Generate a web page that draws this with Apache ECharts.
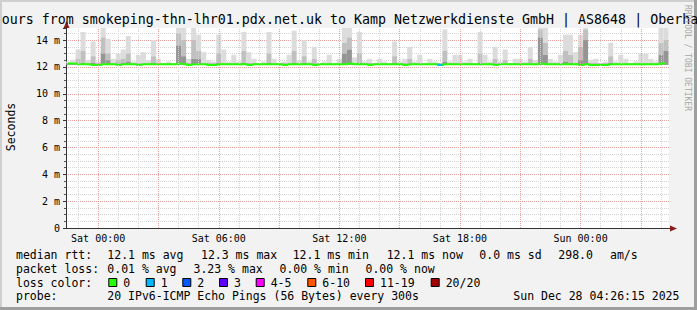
<!DOCTYPE html>
<html><head><meta charset="utf-8">
<script src="https://cdn.jsdelivr.net/npm/echarts@6/dist/echarts.min.js"></script>
<style>html,body{margin:0;padding:0;background:#f2f2f2}#c{width:697px;height:310px}</style>
</head><body><div id="c"></div>
<script>
// ---------- data ----------
const titleText = 'ours from smokeping-thn-lhr01.pdx.net.uk to Kamp Netzwerkdienste GmbH | AS8648 | Oberha';
const startHour = -1.5;   // hours relative to Sat 00:00
const stepHours = 0.25;
const smokeMin = [
12.15,12.15,12.15,12.15,12.15,12.1,12.1,12.15,12.15,12.15,
12.1,12.15,12.15,12.15,12.1,12.15,12.15,12.15,12.15,12.15,
12.15,12.15,12.15,12.15,12.1,12.15,12.15,12.15,12.1,12.1,
12.15,12.15,12.15,12.15,12.15,12.15,12.1,12.15,12.15,12.15,
12.15,12.15,12.15,12.1,12.15,12.15,12.15,12.15,12.15,12.1,
12.15,12.15,12.15,12.15,12.15,12.15,12.15,12.15,12.15,12.15,
12.1,12.15,12.15,12.15,12.15,12.15,12.15,12.1,12.15,12.15,
12.15,12.15,12.15,12.15,12.1,12.15,12.15,12.15,12.15,12.15,
12.15,12.15,12.15,12.15,12.15,12.1,12.15,12.15,12.15,12.15,
12.15,12.15,12.15,12.15,12.15,12.15,12.15,12.15,12.15,12.15,
12.15,12.15,12.1,12.15,12.1,12.1,12.1,12.1,12.15,12.15,
12.15,12.15,12.15,12.15,12.15,12.15,12.15,12.15,12.15,12.15];
const smokeDark = [
12.25,12.25,12.25,12.3,12.25,12.3,12.25,13.0,12.5,12.25,
12.25,12.3,12.4,12.25,12.25,12.25,12.25,12.3,12.25,12.25,
12.25,12.25,13.6,12.8,12.25,12.6,12.6,12.25,12.25,12.25,
12.3,12.25,12.25,12.25,12.25,12.3,12.25,12.25,12.25,12.25,
12.3,12.25,12.25,12.25,12.25,12.3,12.25,12.3,12.25,12.25,
12.25,12.25,12.25,12.25,12.25,13.0,13.3,12.25,12.3,12.25,
12.25,12.25,12.25,12.25,12.25,12.3,12.25,12.25,12.25,12.25,
12.25,12.25,12.25,12.25,12.25,12.4,12.25,12.25,12.25,12.25,
12.25,12.25,12.3,12.25,12.25,12.25,12.25,12.25,12.25,12.25,
12.25,12.25,12.25,12.25,14.2,12.9,12.25,12.25,12.25,12.4,
12.3,12.25,12.5,14.0,12.25,12.25,12.25,12.25,12.3,12.25,
12.25,12.25,12.25,12.25,12.25,12.25,12.25,12.25,12.9,13.2];
const smokeMid = [
12.3,12.3,12.6,13.2,12.3,12.8,12.3,14.2,13.0,12.3,
12.5,12.6,13.0,12.3,12.3,12.3,12.3,12.8,12.3,12.3,
12.3,12.3,14.5,14.0,12.3,14.0,13.2,12.3,12.3,12.3,
13.0,12.3,12.3,12.3,12.3,13.2,12.3,12.3,12.3,12.3,
13.0,12.3,12.3,12.3,12.3,13.2,12.3,12.8,12.3,12.6,
12.3,12.3,12.3,12.3,12.3,13.8,14.2,12.3,13.0,12.3,
12.3,12.3,12.3,12.3,12.3,12.8,12.3,12.3,12.6,12.3,
12.3,12.3,12.3,12.3,12.3,13.2,12.3,12.3,12.3,12.3,
12.3,12.3,13.0,12.3,12.3,12.6,12.3,12.5,12.3,12.3,
12.3,12.3,12.6,12.3,14.8,13.8,12.3,12.3,12.3,13.2,
12.9,12.3,13.5,14.8,12.3,12.3,12.3,12.3,12.8,12.3,
12.3,12.3,12.3,12.3,12.3,12.3,12.3,12.3,13.8,14.0];
const smokeMax = [
12.4,12.5,13.3,14.6,12.5,13.9,12.4,15.0,14.1,12.6,
13.0,13.3,14.3,12.4,12.9,13.1,12.5,14.0,12.6,12.3,
12.4,12.3,15.0,15.0,12.6,15.0,14.4,13.1,12.5,12.4,
14.4,13.3,12.4,12.9,12.4,14.6,13.1,12.6,12.3,12.4,
14.6,12.6,12.3,12.4,12.9,14.7,12.5,14.0,12.4,13.5,
12.3,12.4,12.9,12.3,12.6,15.0,15.0,12.7,14.6,12.4,
12.6,12.3,12.6,12.4,12.3,13.9,12.4,12.6,13.5,12.4,
12.9,12.3,12.6,12.4,12.3,14.8,12.4,12.9,12.9,12.4,
12.6,12.3,14.6,12.9,12.4,13.5,12.4,13.3,12.3,12.6,
12.6,12.4,13.5,12.5,15.0,15.0,12.6,12.4,12.9,14.4,
14.4,13.1,14.4,15.0,12.5,12.6,12.3,12.4,13.8,12.4,
12.9,12.6,12.3,12.4,13.0,13.0,12.6,12.4,15.0,15.0];
const medianRtt = [
12.25,12.25,12.2,12.2,12.2,12.15,12.15,12.2,12.2,12.2,
12.15,12.2,12.2,12.2,12.15,12.2,12.2,12.2,12.2,12.2,
12.2,12.2,12.25,12.2,12.15,12.2,12.2,12.2,12.15,12.15,
12.2,12.2,12.2,12.2,12.2,12.2,12.15,12.2,12.2,12.2,
12.2,12.2,12.2,12.15,12.2,12.2,12.2,12.2,12.2,12.15,
12.2,12.2,12.2,12.2,12.2,12.2,12.25,12.2,12.2,12.2,
12.15,12.2,12.2,12.2,12.2,12.2,12.2,12.15,12.2,12.2,
12.2,12.2,12.2,12.2,12.15,12.2,12.2,12.2,12.2,12.2,
12.2,12.2,12.2,12.2,12.2,12.15,12.2,12.2,12.2,12.2,
12.2,12.2,12.2,12.2,12.25,12.2,12.2,12.2,12.2,12.2,
12.2,12.2,12.15,12.2,12.15,12.15,12.15,12.15,12.2,12.2,
12.2,12.2,12.2,12.2,12.2,12.2,12.2,12.2,12.25,12.25];
const lossEvents = [{ hour: 17.0, pings: 1 }];
const xTickHours = [0, 6, 12, 18, 24];
const xTickLabels = ['Sat 00:00', 'Sat 06:00', 'Sat 12:00', 'Sat 18:00', 'Sun 00:00'];
const yTickValues = [0, 2, 4, 6, 8, 10, 12, 14];
const yTickLabels = ['0', '2 m', '4 m', '6 m', '8 m', '10 m', '12 m', '14 m'];
const lossColorLabels = ['0', '1', '2', '3', '4-5', '6-10', '11-19', '20/20'];
const lossColors = ['#26ff00', '#00b8ff', '#0059ff', '#5e00ff', '#ff00ff', '#ff5500', '#ff0000', '#a10000'];
const rttStats = ['12.1 ms avg', '12.3 ms max', '12.1 ms min', '12.1 ms now', '0.0 ms sd', '298.0', 'am/s'];
const lossStats = ['0.01 % avg', '3.23 % max', '0.00 % min', '0.00 % now'];
const probeText = '20 IPv6-ICMP Echo Pings (56 Bytes) every 300s';
const dateText = 'Sun Dec 28 04:26:15 2025';
const yLabel = 'Seconds';
const credit = 'RRDTOOL / TOBI OETIKER';

// ---------- build ----------
const Y_MAX = 14.9;
const hours = smokeMax.map((_, i) => startHour + i * stepHours);
const pairs = arr => arr.map((v, i) => [hours[i], v]);
const smokeData = hours.map((h, i) => [h, smokeMin[i], smokeDark[i], smokeMid[i], smokeMax[i]]);
const lossSeg = [];
lossEvents.forEach(e => {
  const i = Math.round((e.hour - startHour) / stepHours);
  lossSeg.push([e.hour - stepHours / 2, medianRtt[i]], [e.hour + stepHours / 2, medianRtt[i]], [e.hour + stepHours / 2, null]);
});
const gridMajor = [], gridMinor = [];
for (let h = -1; h <= 28; h++) {
  if (h % 3 === 0) gridMajor.push(h); else gridMinor.push(h);
}
const MONO = 'DejaVu Sans Mono';
const majorStyle = { color: '#eba0a0', type: [1, 1], width: 1 };
const minorStyle = { color: '#d4d4d4', type: [1, 1], width: 1 };
const smokeColors = ['#959595', '#c0c0c0', '#dcdcdc'];

function renderSmoke(params, api) {
  const h = api.value(0);
  const xa = api.coord([h - stepHours / 2, 0])[0];
  const xb = api.coord([h + stepHours / 2, 0])[0];
  const cs = params.coordSys;
  const ys = [1, 2, 3, 4].map(d => api.coord([h, api.value(d)])[1]);
  const children = [];
  for (let k = 2; k >= 0; k--) {
    const r = echarts.graphic.clipRectByRect(
      { x: xa, y: ys[k + 1], width: xb - xa, height: ys[k] - ys[k + 1] },
      { x: cs.x, y: cs.y, width: cs.width, height: cs.height });
    if (r && r.height > 0) children.push({ type: 'rect', shape: r, style: { fill: smokeColors[k] } });
  }
  return { type: 'group', children };
}
const vLine = (h, style) => [{ coord: [h, 0], lineStyle: style }, { coord: [h, Y_MAX] }];

const g = [];
const txt = (x, y, s, extra) => g.push(Object.assign({ type: 'text', x, y, silent: true,
  style: Object.assign({ text: s, fontFamily: MONO, fontSize: 11.5, fill: '#000', verticalAlign: 'middle', align: 'left' }, extra || {}) }));
// frame
g.push({ type: 'rect', shape: { x: 0, y: 0, width: 697, height: 2 }, style: { fill: '#cfcfcf' }, silent: true });
g.push({ type: 'rect', shape: { x: 0, y: 0, width: 2, height: 310 }, style: { fill: '#cfcfcf' }, silent: true });
g.push({ type: 'rect', shape: { x: 694, y: 0, width: 3, height: 310 }, style: { fill: '#9e9e9e' }, silent: true });
g.push({ type: 'rect', shape: { x: 0, y: 307, width: 697, height: 3 }, style: { fill: '#9e9e9e' }, silent: true });
// arrows
g.push({ type: 'line', shape: { x1: 66.5, y1: 28, x2: 66.5, y2: 24 }, style: { stroke: '#333', lineWidth: 1 }, silent: true });
g.push({ type: 'polygon', shape: { points: [[63.5, 28], [69.5, 28], [66.5, 21]] }, style: { fill: '#8b1a1a' }, silent: true });
g.push({ type: 'line', shape: { x1: 669, y1: 228.5, x2: 671, y2: 228.5 }, style: { stroke: '#333', lineWidth: 1 }, silent: true });
g.push({ type: 'polygon', shape: { points: [[670, 225.5], [670, 231.5], [677, 228.5]] }, style: { fill: '#8b1a1a' }, silent: true });
// title & side texts
txt(1.7, 19.3, titleText, { fontSize: 13.3 });
g.push({ type: 'text', x: 11, y: 127, rotation: Math.PI / 2, silent: true,
  style: { text: yLabel, fontFamily: MONO, fontSize: 11.5, fill: '#000', align: 'center', verticalAlign: 'middle' } });
g.push({ type: 'text', x: 687, y: 58, rotation: -Math.PI / 2, silent: true,
  style: { text: credit, fontFamily: MONO, fontSize: 8, fill: '#a8a8a8', align: 'center', verticalAlign: 'middle' } });
// legend rows
const r1 = 254.5, r2 = 268.5, r3 = 282.5, r4 = 296.3;
txt(16, r1, 'median rtt:');
[107.3, 201, 292.7, 386.7, 479.3, 558.3, 610].forEach((x, i) => txt(x, r1, rttStats[i]));
txt(16, r2, 'packet loss:');
[107.3, 193.5, 279.5, 365.5].forEach((x, i) => txt(x, r2, lossStats[i]));
txt(16, r3, 'loss color:');
const boxX = [108.3, 145.7, 182.3, 219, 255.7, 307.3, 365, 430.7];
boxX.forEach((x, i) => {
  g.push({ type: 'rect', shape: { x: x + 0.5, y: r3 - 4, width: 8, height: 8 }, silent: true,
    style: { fill: lossColors[i], stroke: '#000', lineWidth: 1 } });
  txt(x + 15, r3, lossColorLabels[i]);
});
txt(16, r4, 'probe:');
txt(107.3, r4, probeText);
txt(513.3, r4, dateText);

const chart = echarts.init(document.getElementById('c'), null, { renderer: 'svg', width: 697, height: 310 });
chart.setOption({
  backgroundColor: '#f2f2f2',
  animation: false,
  textStyle: { fontFamily: MONO },
  grid: { left: 66, right: 28, top: 28, bottom: 82, show: true, backgroundColor: '#ffffff', borderWidth: 0 },
  xAxis: {
    type: 'value', min: -1.6, max: 28.4,
    axisLine: { show: true, onZero: false, lineStyle: { color: '#333', width: 1 } },
    axisTick: { show: false },
    splitLine: { show: false },
    axisLabel: { customValues: xTickHours, margin: 5, fontFamily: MONO, fontSize: 10, color: '#000',
      formatter: v => { const k = xTickHours.indexOf(Math.round(v * 1000) / 1000); return k >= 0 ? xTickLabels[k] : ''; } }
  },
  yAxis: {
    type: 'value', min: 0, max: Y_MAX, interval: 2,
    axisLine: { show: true, onZero: false, lineStyle: { color: '#333', width: 1 } },
    axisTick: { show: true, length: 3, lineStyle: { color: '#333' } },
    minorTick: { show: true, splitNumber: 4, length: 2, lineStyle: { color: '#555' } },
    splitLine: { show: true, showMaxLine: false, lineStyle: majorStyle },
    minorSplitLine: { show: true, lineStyle: minorStyle },
    axisLabel: { margin: 6, fontFamily: MONO, fontSize: 10, color: '#000', showMaxLabel: false,
      formatter: v => { const k = yTickValues.indexOf(v); return k >= 0 ? yTickLabels[k] : ''; } }
  },
  series: [
    { type: 'line', name: 'grid', data: [], silent: true, z: 1,
      markLine: { silent: true, symbol: ['none', 'none'], label: { show: false }, animation: false,
        data: gridMinor.map(h => vLine(h, minorStyle)).concat(gridMajor.map(h => vLine(h, majorStyle))) } },
    { type: 'custom', name: 'smoke', data: smokeData, renderItem: renderSmoke, silent: true, z: 2,
      encode: { x: 0, y: [1, 2, 3, 4] } },
    { type: 'line', name: 'median', step: 'middle', data: pairs(medianRtt), showSymbol: false, silent: true, z: 4,
      lineStyle: { color: lossColors[0], width: 2 } },
    { type: 'line', name: 'loss', data: lossSeg, showSymbol: false, silent: true, z: 5, connectNulls: false,
      lineStyle: { color: lossColors[1], width: 2 } }
  ],
  graphic: g
});
</script>
</body></html>
